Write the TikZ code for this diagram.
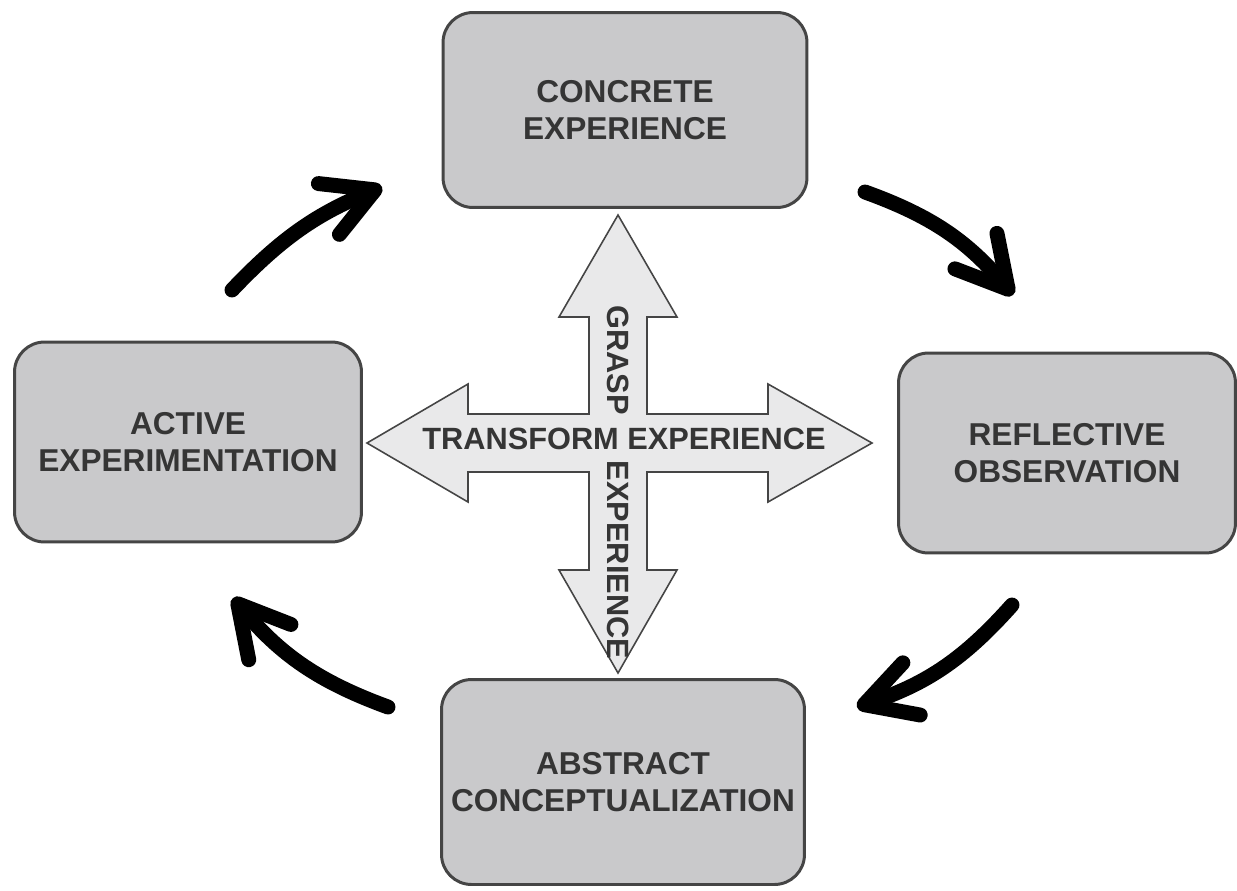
\documentclass[tikz,border=0pt]{standalone}
\usepackage{fontspec}
\setmainfont{Liberation Sans}
\usepackage{tikz}
\usetikzlibrary{arrows.meta,calc,positioning}
\definecolor{relleno}{HTML}{C9C9CB}
\definecolor{borde}{HTML}{454545}
\definecolor{cruzfondo}{HTML}{E9E9EA}
\definecolor{tinta}{HTML}{353535}
\tikzset{
  caja/.style={rectangle,rounded corners=0.6cm,draw=borde,fill=relleno,line width=1.7pt,minimum height=4cm,align=center,text=tinta,font=\fontsize{18}{21}\selectfont\bfseries},
  cruz/.style={draw=borde,fill=cruzfondo,line width=0.9pt,line join=miter},
  rotulo/.style={text=tinta,inner sep=0pt,font=\fontsize{17.5}{20}\selectfont\bfseries},
  ciclo/.style={draw=black,line width=8.5pt,line cap=round,-{Straight Barb[length=10mm,width=11mm,round]}},
}
\begin{document}
\begin{tikzpicture}[x=0.02cm,y=-0.02cm]
\useasboundingbox (0,0) rectangle (1237,890);
\coordinate (c1) at (625,110);
\coordinate (c2) at (1067,453);
\coordinate (c3) at (623,782);
\coordinate (c4) at (188,442);
% cruz central
\draw[cruz] (618,215) -- (677,317) -- (647,317) -- (647,414) -- (768,414) -- (768,384)
  -- (872,443) -- (768,502) -- (768,472) -- (647,472) -- (647,570) -- (677,570)
  -- (618,673) -- (559,570) -- (589,570) -- (589,472) -- (468,472) -- (468,502)
  -- (367,443) -- (468,384) -- (468,414) -- (589,414) -- (589,317) -- (559,317) -- cycle;
\node[rotulo] (transformar) at (624,439) {TRANSFORM EXPERIENCE};
\node[rotulo,rotate=-90] (captar) at (618,360) {GRASP};
\node[rotulo,rotate=-90] (captar2) at (618,560) {EXPERIENCE};
% cajas
\node[caja,minimum width=7.28cm,minimum height=3.9cm] (concreta) at (c1) {CONCRETE\\EXPERIENCE};
\node[caja,minimum width=6.74cm] (reflexiva) at (c2) {REFLECTIVE\\OBSERVATION};
\node[caja,minimum width=7.26cm,minimum height=4.1cm] (abstracta) at (c3) {ABSTRACT\\CONCEPTUALIZATION};
\node[caja,minimum width=6.94cm] (activa) at (c4) {ACTIVE\\EXPERIMENTATION};
% flechas del ciclo
\coordinate (a1) at (232,290);
\coordinate (b1) at (382,187);
\coordinate (a2) at (865,192);
\coordinate (b2) at (1013,295);
\coordinate (a3) at (1012,605);
\coordinate (b3) at (857,707);
\coordinate (a4) at (388,707);
\coordinate (b4) at (233,598);
\draw[ciclo] (a1) to[bend left=12] (b1);
\draw[ciclo] (a2) to[bend left=15] (b2);
\draw[ciclo] (a3) to[bend left=15] (b3);
\draw[ciclo] (a4) to[bend left=15] (b4);
\end{tikzpicture}
\end{document}
